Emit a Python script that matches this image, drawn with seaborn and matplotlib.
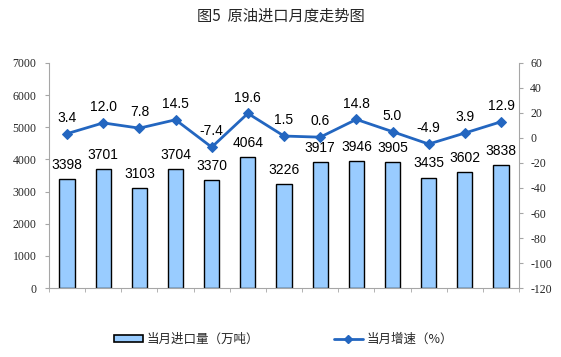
import numpy as np
import pandas as pd
import seaborn as sns
import matplotlib.pyplot as plt
from matplotlib.lines import Line2D
from matplotlib.patches import Patch

months = ['2017年\n8月', '9月', '10月', '11月', '12月', '2018年\n1月', '2月',
          '3月', '4月', '5月', '6月', '7月', '8月']
imports = [3398, 3701, 3103, 3704, 3370, 4064, 3226, 3917, 3946, 3905, 3435, 3602, 3838]
growth = [3.4, 12.0, 7.8, 14.5, -7.4, 19.6, 1.5, 0.6, 14.8, 5.0, -4.9, 3.9, 12.9]
left_ticks = list(range(0, 7001, 1000))
right_ticks = list(range(-120, 61, 20))

df = pd.DataFrame({'month': months, 'imports': imports, 'growth': growth})

sns.set_style('white')
plt.rcParams['font.family'] = ['Noto Sans CJK SC', 'DejaVu Sans']
plt.rcParams['axes.unicode_minus'] = False

fig = plt.figure(figsize=(5.61, 3.57), dpi=100)
ax = fig.add_axes([0.0873, 0.193, 0.838, 0.631])

sns.barplot(data=df, x='month', y='imports', ax=ax, color='#99CCFF',
            edgecolor='black', linewidth=1.0, width=0.42, saturation=1)
ax.set_ylim(0, 7000)
ax.set_xlim(-0.5, len(months) - 0.5)
ax.set_xlabel('')
ax.set_ylabel('')

for i, v in enumerate(imports):
    ax.text(i, v + 220, str(v), ha='center', va='bottom', fontsize=10,
            family='Liberation Sans', color='black')

ax2 = ax.twinx()
pos = np.arange(len(months))
sns.lineplot(x=pos, y=growth, ax=ax2, color='#2366C0', linewidth=2,
             marker='D', markersize=5, markeredgecolor='#2366C0')
ax2.set_ylim(-120, 60)
ax2.set_xlim(-0.5, len(months) - 0.5)

for i, v in enumerate(growth):
    ax2.text(i, v + 7, f'{v:.1f}', ha='center', va='bottom', fontsize=10,
             family='Liberation Sans', color='black')

for a in (ax, ax2):
    for s in a.spines.values():
        s.set_visible(False)
ax.spines['left'].set_visible(True)
ax.spines['bottom'].set_visible(True)
ax2.spines['right'].set_visible(True)
for s in (ax.spines['left'], ax.spines['bottom'], ax2.spines['right']):
    s.set_color('#A6A6A6')
    s.set_linewidth(0.8)

ax.set_yticks(left_ticks)
ax.set_yticklabels([str(t) for t in left_ticks], family='Liberation Serif', fontsize=8.5)
ax2.set_yticks(right_ticks)
ax2.set_yticklabels([str(t) for t in right_ticks], family='Liberation Serif', fontsize=8.5)
ax.tick_params(axis='y', direction='out', length=3, color='#A6A6A6', pad=6, left=True)
ax2.tick_params(axis='y', direction='out', length=3, color='#A6A6A6', pad=5, right=True)

ax.set_xticks(pos)
ax.set_xticklabels(months, fontsize=8.5, linespacing=1.3,
                   family=['Liberation Serif', 'Noto Sans CJK SC'])
ax.set_xticks(np.arange(-0.5, len(months), 1), minor=True)
ax.tick_params(axis='x', which='major', length=0, pad=4)
ax.tick_params(axis='x', which='minor', direction='out', length=3, color='#A6A6A6', bottom=True)
ax2.set_xticks([])

fig.text(0.5, 0.955, '图5  原油进口月度走势图', ha='center', va='center',
         fontsize=11, fontweight='medium')

handles = [Patch(facecolor='#99CCFF', edgecolor='black', linewidth=1.2),
           Line2D([0], [0], color='#2366C0', linewidth=2, marker='D', markersize=4)]
fig.legend(handles, ['当月进口量（万吨）', '当月增速（%）'], loc='center',
           bbox_to_anchor=(0.505, 0.05), ncol=2, frameon=False, fontsize=9,
           handlelength=2.3, handleheight=0.45, handletextpad=0.3, columnspacing=6)

fig.savefig('out.png', dpi=100)
